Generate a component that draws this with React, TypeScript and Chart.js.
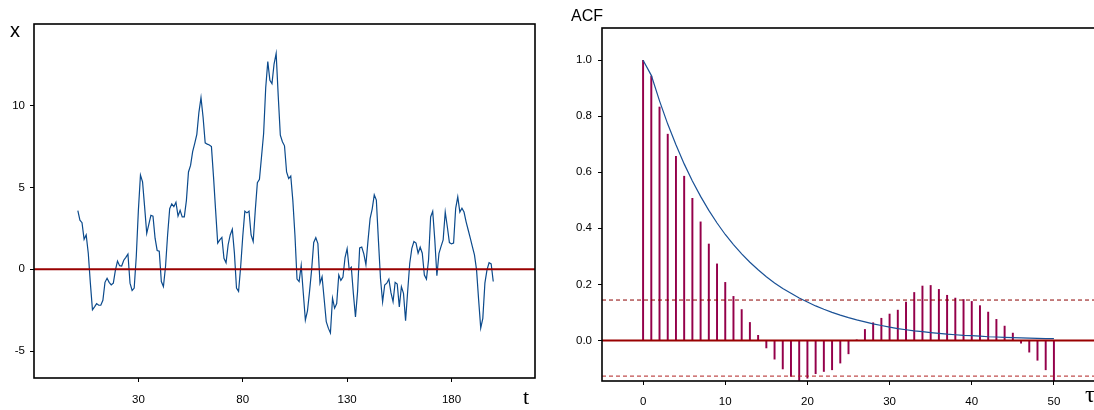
import React, { useEffect, useRef } from "react";
import { Chart, registerables } from "chart.js";
Chart.register(...registerables);

// ---------- Data: time series x(t), t = 1..200 ----------
const seriesValues = [
  3.58, 3.0, 2.85, 1.83, 2.1, 0.98, -0.85, -2.48, -2.3, -2.1,
  -2.2, -2.2, -1.9, -0.8, -0.55, -0.8, -0.95, -0.85, -0.05, 0.5,
  0.22, 0.2, 0.55, 0.73, 0.93, -0.85, -1.3, -1.15, 0.8, 3.6,
  5.76, 5.35, 3.8, 2.2, 2.75, 3.3, 3.25, 1.9, 1.15, 1.1,
  -0.75, -1.06, 0.15, 2.1, 3.7, 4.0, 3.83, 4.1, 3.25, 3.6,
  3.2, 3.2, 4.2, 5.95, 6.35, 7.2, 7.7, 8.25, 9.6, 10.5,
  9.3, 7.73, 7.65, 7.6, 7.5, 5.65, 3.6, 1.6, 1.8, 1.95,
  0.67, 0.4, 1.5, 2.1, 2.45, 1.0, -1.15, -1.35, 0.15, 2.0,
  3.55, 3.45, 3.55, 2.1, 1.7, 3.6, 5.3, 5.5, 6.9, 8.3,
  11.1, 12.7, 11.55, 11.35, 12.55, 13.2, 10.6, 8.2, 7.8, 7.55,
  5.95, 5.55, 5.7, 4.2, 2.1, -0.6, -0.75, 0.24, -1.45, -3.1,
  -2.55, -1.35, -0.02, 1.64, 1.93, 1.57, -0.85, -0.45, -1.82, -3.2,
  -3.6, -3.9, -1.77, -2.38, -2.1, -0.35, -0.68, -0.48, 0.72, 1.26,
  -0.02, 0.13, -1.5, -2.92, -1.37, 1.3, 1.36, 0.94, 0.28, 1.75,
  3.1, 3.68, 4.55, 4.23, 1.75, -0.6, -1.99, -0.96, -0.85, -0.6,
  -1.43, -1.98, -0.8, -0.9, -2.3, -1.06, -1.47, -3.14, -1.36, 0.37,
  1.28, 1.7, 1.6, 0.98, 1.35, 0.98, -0.35, -0.6, 0.57, 3.2,
  3.55, 1.8, -0.4, 0.98, 1.4, 1.8, 3.5, 2.6, 1.63, 1.55,
  1.6, 3.73, 4.43, 3.5, 3.73, 3.5, 2.9, 2.4, 1.9, 1.38,
  0.88, -0.04, -1.87, -3.6, -3.0, -0.85, -0.04, 0.4, 0.33, -0.75,
];
const seriesXTicks = [30, 80, 130, 180];
const seriesYTicks = [-5, 0, 5, 10];

// ---------- Data: ACF ----------
const acfLags = [
  0, 1, 2, 3, 4, 5, 6, 7, 8, 9, 10, 11, 12, 13, 14, 15, 16, 17, 18, 19, 20,
  21, 22, 23, 24, 25, 26, 27, 28, 29, 30, 31, 32, 33, 34, 35, 36, 37, 38, 39, 40,
  41, 42, 43, 44, 45, 46, 47, 48, 49, 50,
];
const acfValues = [
  1.0, 0.943, 0.833, 0.736, 0.657, 0.586, 0.507, 0.423, 0.344, 0.273, 0.207,
  0.157, 0.11, 0.064, 0.018, -0.027, -0.067, -0.102, -0.129, -0.143, -0.135,
  -0.119, -0.111, -0.105, -0.081, -0.048, 0.002, 0.039, 0.063, 0.079, 0.094,
  0.108, 0.137, 0.171, 0.194, 0.196, 0.182, 0.161, 0.151, 0.146, 0.139,
  0.124, 0.101, 0.075, 0.051, 0.026, -0.01, -0.042, -0.071, -0.105, -0.149,
];
const acfTheory = [
  1.0, 0.946, 0.855, 0.772, 0.698, 0.63, 0.569, 0.514, 0.464, 0.419, 0.378,
  0.342, 0.309, 0.279, 0.252, 0.227, 0.205, 0.185, 0.168, 0.151, 0.137,
  0.123, 0.111, 0.1, 0.09, 0.081, 0.073, 0.066, 0.059, 0.053, 0.047,
  0.042, 0.038, 0.034, 0.031, 0.028, 0.025, 0.022, 0.02, 0.018, 0.017,
  0.015, 0.013, 0.012, 0.011, 0.01, 0.009, 0.008, 0.007, 0.0065, 0.006,
];
const acfXTicks = [0, 10, 20, 30, 40, 50];
const acfYTicks = [0, 0.2, 0.4, 0.6, 0.8, 1.0];
const confUpper = 0.144;
const confLower = -0.1275;

const FONT = "'Liberation Sans', Arial, sans-serif";
const tickFont = { family: FONT, size: 11.5 };

const framePlugin = {
  id: "frame",
  afterDraw(chart: any) {
    const { ctx, chartArea: a } = chart;
    ctx.save();
    ctx.strokeStyle = "#000";
    ctx.lineWidth = 1.6;
    ctx.strokeRect(a.left, a.top, a.right - a.left, a.bottom - a.top);
    ctx.restore();
  },
};

function axis(
  min: number,
  max: number,
  ticks: number[],
  size: number,
  isX: boolean,
  pad: number,
  fmt?: (v: number) => string
) {
  return {
    type: "linear",
    min,
    max,
    offset: false,
    afterBuildTicks: (s: any) => {
      s.ticks = ticks.map((v) => ({ value: v }));
    },
    afterFit: (s: any) => {
      if (isX) s.height = size;
      else s.width = size;
    },
    ticks: {
      font: tickFont,
      color: "#000",
      padding: pad,
      maxRotation: 0,
      autoSkip: false,
      callback: (v: number) => (fmt ? fmt(v) : String(v)),
    },
    grid: {
      drawOnChartArea: false,
      drawTicks: true,
      tickLength: 4,
      color: "#000",
      tickColor: "#000",
      lineWidth: 1,
      offset: false,
    },
    border: { display: false },
  };
}

export default function App() {
  const leftRef = useRef<HTMLCanvasElement>(null);
  const rightRef = useRef<HTMLCanvasElement>(null);

  useEffect(() => {
    const left = new Chart(leftRef.current!, {
      type: "line",
      data: {
        datasets: [
          {
            data: [
              { x: -20, y: 0 },
              { x: 220, y: 0 },
            ],
            borderColor: "#990000",
            borderWidth: 2,
            pointRadius: 0,
          },
          {
            data: seriesValues.map((v, i) => ({ x: i + 1, y: v })),
            borderColor: "#0b4a8c",
            borderWidth: 1.2,
            pointRadius: 0,
            tension: 0,
          },
        ],
      } as any,
      options: {
        responsive: false,
        animation: false,
        devicePixelRatio: 1,
        layout: { padding: { top: 24, right: 15, left: 0, bottom: 0 } },
        plugins: { legend: { display: false }, tooltip: { enabled: false } },
        scales: {
          x: axis(-20, 220, seriesXTicks, 32, true, 11),
          y: axis(-6.65, 15, seriesYTicks, 34, false, 5),
        } as any,
      },
      plugins: [framePlugin],
    });

    const right = new Chart(rightRef.current!, {
      type: "bar",
      data: {
        datasets: [
          {
            type: "line",
            data: [
              { x: -5, y: confUpper },
              { x: 55, y: confUpper },
            ],
            borderColor: "#8b0000",
            borderWidth: 1,
            borderDash: [4, 3],
            pointRadius: 0,
          },
          {
            type: "line",
            data: [
              { x: -5, y: confLower },
              { x: 55, y: confLower },
            ],
            borderColor: "#b02020",
            borderWidth: 1,
            borderDash: [4, 3],
            pointRadius: 0,
          },
          {
            type: "line",
            data: [
              { x: -5, y: 0 },
              { x: 55, y: 0 },
            ],
            borderColor: "#990000",
            borderWidth: 2,
            pointRadius: 0,
          },
          {
            type: "line",
            data: acfLags.map((l, i) => ({ x: l, y: acfTheory[i] })),
            borderColor: "#1a5196",
            borderWidth: 1.2,
            pointRadius: 0,
            tension: 0,
          },
          {
            type: "bar",
            data: acfLags.map((l, i) => ({ x: l, y: acfValues[i] })),
            backgroundColor: "#94004a",
            barThickness: 1.3,
          },
        ],
      } as any,
      options: {
        responsive: false,
        animation: false,
        devicePixelRatio: 1,
        layout: { padding: { top: 28, right: 15, left: 0, bottom: 0 } },
        plugins: { legend: { display: false }, tooltip: { enabled: false } },
        scales: {
          x: axis(-5, 55, acfXTicks, 29, true, 10),
          y: axis(-0.145, 1.115, acfYTicks, 52, false, 6, (v) => v.toFixed(1)),
        } as any,
      },
      plugins: [framePlugin],
    });

    return () => {
      left.destroy();
      right.destroy();
    };
  }, []);

  const label = (text: string, left: number, top: number, size: number, serif: boolean) => (
    <div
      style={{
        position: "absolute",
        left,
        top,
        fontSize: size,
        lineHeight: 1,
        fontFamily: serif ? "'Liberation Serif', 'DejaVu Serif', serif" : FONT,
        color: "#000",
        whiteSpace: "nowrap",
      }}
    >
      {text}
    </div>
  );

  return (
    <div
      style={{
        position: "fixed",
        left: 0,
        top: 0,
        width: 1094,
        height: 410,
        overflow: "hidden",
        background: "#fff",
      }}
    >
      <canvas ref={leftRef} width={550} height={410} style={{ position: "absolute", left: 0, top: 0 }} />
      <canvas ref={rightRef} width={560} height={410} style={{ position: "absolute", left: 550, top: 0 }} />
      {label("x", 10, 20, 20, false)}
      {label("t", 523, 386, 22, true)}
      {label("ACF", 571, 8, 16, false)}
      {label("τ", 1085, 382, 24, true)}
    </div>
  );
}
